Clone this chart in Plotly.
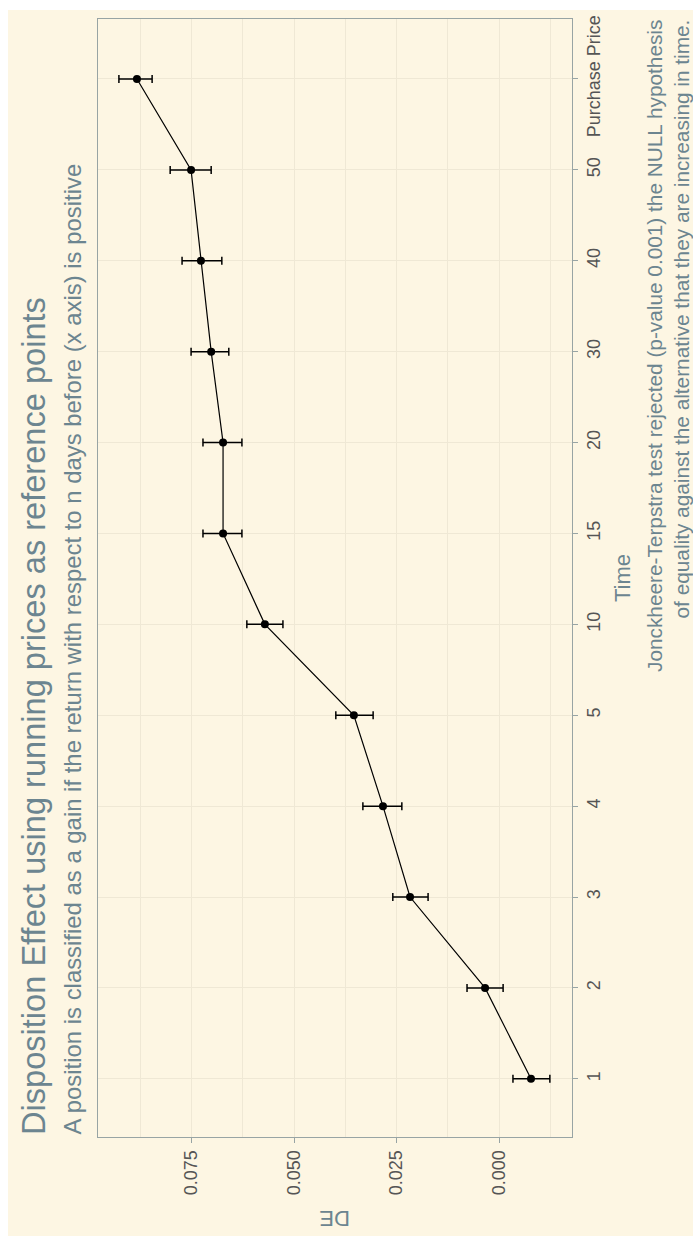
import plotly.graph_objects as go

# Holding period (days) used as reference point, plus the purchase price
periods = ["1", "2", "3", "4", "5", "10", "15", "20", "30", "40", "50", "Purchase Price"]
# Disposition effect estimate and its confidence interval per period
de_mean = [-0.0078, 0.0034, 0.0217, 0.0283, 0.0354, 0.0571, 0.0673, 0.0673, 0.0702, 0.0727, 0.0751, 0.0883]
de_low = [-0.0124, -0.0010, 0.0173, 0.0237, 0.0307, 0.0527, 0.0627, 0.0627, 0.0659, 0.0676, 0.0702, 0.0846]
de_high = [-0.0034, 0.0078, 0.0259, 0.0332, 0.0398, 0.0615, 0.0722, 0.0722, 0.0751, 0.0773, 0.0802, 0.0927]
de_ticks = [0.075, 0.050, 0.025, 0.000]
de_tick_text = ["0.075", "0.050", "0.025", "0.000"]

BG = "#fdf6e3"
GRID = "#efe8d5"
BORDER = "#98a4a4"
TXT = "#6c8590"
TICK_TXT = "#555555"
FONT = "Liberation Sans, Arial, sans-serif"

W, H = 693, 1236
L, R, T, B = 98, 121, 19, 99
pw, ph = W - L - R, H - T - B


def px_x(p):
    return (p - L) / pw


def px_y(p):
    return (H - B - p) / ph


fig = go.Figure()
fig.add_trace(go.Scatter(
    x=de_mean, y=periods,
    mode="lines+markers",
    line=dict(color="black", width=1.2),
    marker=dict(color="black", size=8),
    error_x=dict(
        type="data", symmetric=False,
        array=[h - m for h, m in zip(de_high, de_mean)],
        arrayminus=[m - l for m, l in zip(de_mean, de_low)],
        color="black", thickness=1.5, width=4,
    ),
    showlegend=False,
    cliponaxis=False,
))

fig.update_layout(
    width=W, height=H,
    margin=dict(l=L, r=R, t=T, b=B),
    paper_bgcolor="white",
    plot_bgcolor="rgba(0,0,0,0)",
    font=dict(family=FONT, color=TICK_TXT),
    shapes=[dict(
        type="rect", xref="paper", yref="paper", layer="below",
        x0=px_x(8), x1=px_x(W + 2), y0=px_y(H + 2), y1=px_y(10),
        fillcolor=BG, line=dict(width=0),
    )],
)

fig.update_xaxes(
    range=[0.0978, -0.0178],
    tickvals=de_ticks, ticktext=de_tick_text,
    tickangle=-90, tickfont=dict(size=18, color=TICK_TXT),
    ticks="outside", ticklen=5, tickcolor=BORDER,
    showgrid=True, gridcolor=GRID, gridwidth=1,
    minor=dict(dtick=0.0125, tick0=0, showgrid=True, gridcolor=GRID, gridwidth=1, ticks=""),
    showline=True, linecolor=BORDER, linewidth=1.2, mirror=True,
    zeroline=False,
)
fig.update_yaxes(
    type="category", categoryorder="array", categoryarray=periods,
    range=[-0.64, 11.66], side="right",
    tickangle=-90, tickfont=dict(size=18, color=TICK_TXT),
    ticks="outside", ticklen=5, tickcolor=BORDER,
    showgrid=True, gridcolor=GRID, gridwidth=1,
    showline=True, linecolor=BORDER, linewidth=1.2, mirror=True,
    zeroline=False,
)

annotations = [
    dict(text="Disposition Effect using running prices as reference points",
         x=px_x(33), y=0, xanchor="center", yanchor="bottom",
         textangle=-90, font=dict(size=32.6, color=TXT)),
    dict(text="A position is classified as a gain if the return with respect to n days before (x axis) is positive",
         x=px_x(72), y=0, xanchor="center", yanchor="bottom",
         textangle=-90, font=dict(size=23.9, color=TXT)),
    dict(text="Time", x=px_x(622), y=0.5, xanchor="center", yanchor="middle",
         textangle=-90, font=dict(size=22, color=TXT)),
    dict(text="DE", x=0.5, y=px_y(1219), xanchor="center", yanchor="middle",
         textangle=180, font=dict(size=22, color=TXT)),
    dict(text="Jonckheere-Terpstra test rejected (p-value 0.001) the NULL hypothesis<br>"
              "of equality against the alternative that they are increasing in time.",
         x=px_x(668), y=px_y(18), xanchor="center", yanchor="top", align="right",
         textangle=-90, font=dict(size=20.8, color=TXT)),
]
for a in annotations:
    a.update(xref="paper", yref="paper", showarrow=False)
fig.update_layout(annotations=annotations)

fig.write_html("out.html")
